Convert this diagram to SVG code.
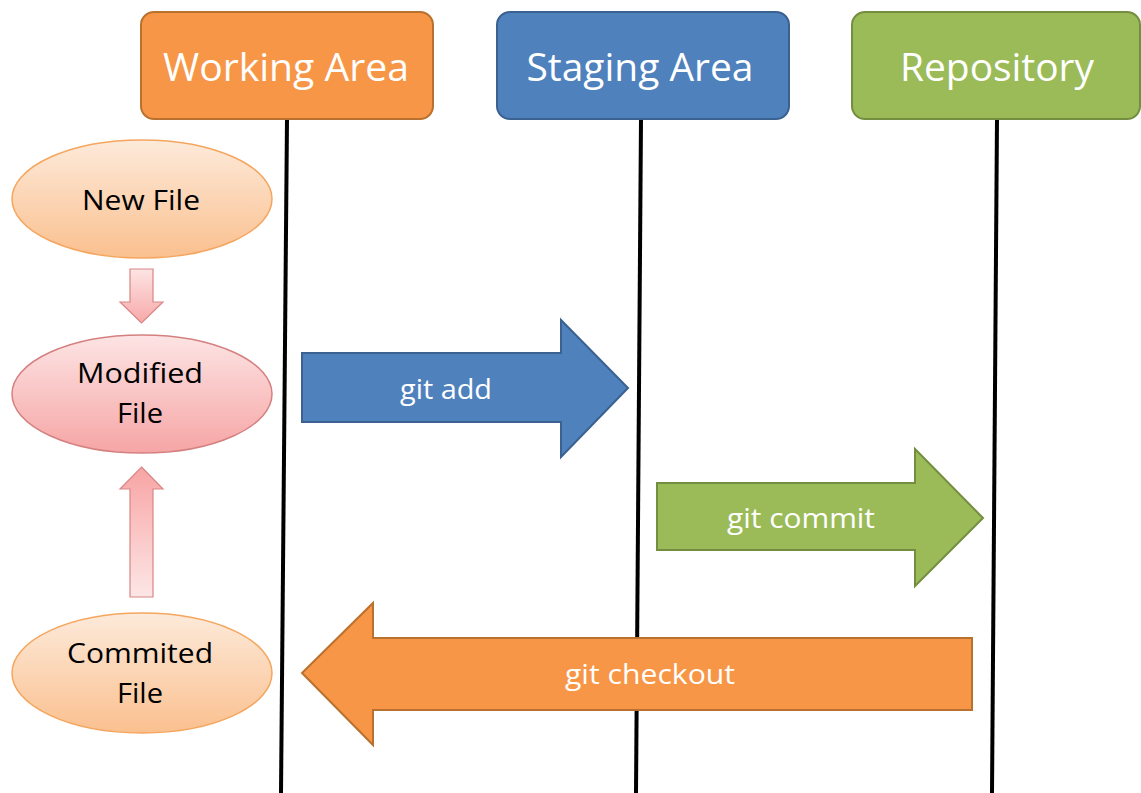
<svg xmlns="http://www.w3.org/2000/svg" width="1141" height="793" viewBox="0 0 1141 793">
  <defs>
    <linearGradient id="peach" x1="0" y1="0" x2="0" y2="1">
      <stop offset="0" stop-color="#FDEADA"/>
      <stop offset="1" stop-color="#FAC08F"/>
    </linearGradient>
    <linearGradient id="pink" x1="0" y1="0" x2="0" y2="1">
      <stop offset="0" stop-color="#FDE4E4"/>
      <stop offset="1" stop-color="#F6A5A5"/>
    </linearGradient>
    <linearGradient id="pinkDown" x1="0" y1="0" x2="0" y2="1">
      <stop offset="0" stop-color="#FDE4E4"/>
      <stop offset="1" stop-color="#F8A8A8"/>
    </linearGradient>
    <linearGradient id="pinkUp" x1="0" y1="1" x2="0" y2="0">
      <stop offset="0" stop-color="#FDE6E6"/>
      <stop offset="1" stop-color="#F8A4A4"/>
    </linearGradient>
  </defs>
  <style>
    .hdr { font-family: "Open Sans", "Liberation Sans", sans-serif; font-size: 38px; fill: #FFFFFF; text-anchor: middle; }
    .lbl { font-family: "Open Sans", "Liberation Sans", sans-serif; font-size: 27px; fill: #000000; text-anchor: middle; }
    .cmd { font-family: "Open Sans", "Liberation Sans", sans-serif; font-size: 28px; fill: #FFFFFF; text-anchor: middle; }
    .life { stroke: #000000; stroke-width: 4; fill: none; }
  </style>

  <rect width="1141" height="793" fill="#FFFFFF"/>

  <!-- lifelines under each area -->
  <g id="connectors">
    <line class="life" x1="287" y1="119" x2="281" y2="793"/>
    <line class="life" x1="641" y1="119" x2="636" y2="793"/>
    <line class="life" x1="997" y1="119" x2="992" y2="793"/>
  </g>

  <!-- column headers -->
  <g id="working-area">
    <rect x="141" y="12" width="292" height="107" rx="13" fill="#F79646" stroke="#B9712F" stroke-width="2"/>
    <text class="hdr" x="286" y="81" textLength="246" lengthAdjust="spacingAndGlyphs">Working Area</text>
  </g>
  <g id="staging-area">
    <rect x="497" y="12" width="292" height="107" rx="13" fill="#4F81BD" stroke="#3A6190" stroke-width="2"/>
    <text class="hdr" x="640" y="81" textLength="227" lengthAdjust="spacingAndGlyphs">Staging Area</text>
  </g>
  <g id="repository">
    <rect x="852" y="12" width="288" height="107" rx="13" fill="#9BBB59" stroke="#748E40" stroke-width="2"/>
    <text class="hdr" x="997" y="81" textLength="194" lengthAdjust="spacingAndGlyphs">Repository</text>
  </g>

  <!-- file states -->
  <g id="new-file">
    <ellipse cx="142" cy="199" rx="130" ry="59" fill="url(#peach)" stroke="#F5A65E" stroke-width="1.5"/>
    <text class="lbl" x="141" y="210" textLength="118" lengthAdjust="spacingAndGlyphs">New File</text>
  </g>
  <g id="modified-file">
    <ellipse cx="142" cy="394" rx="130" ry="59" fill="url(#pink)" stroke="#D58080" stroke-width="1.5"/>
    <text class="lbl" x="140" y="383" textLength="126" lengthAdjust="spacingAndGlyphs">Modified</text>
    <text class="lbl" x="140" y="423" textLength="46" lengthAdjust="spacingAndGlyphs">File</text>
  </g>
  <g id="commited-file">
    <ellipse cx="142" cy="673" rx="130" ry="60" fill="url(#peach)" stroke="#F5A65E" stroke-width="1.5"/>
    <text class="lbl" x="140" y="663" textLength="146" lengthAdjust="spacingAndGlyphs">Commited</text>
    <text class="lbl" x="140" y="703" textLength="46" lengthAdjust="spacingAndGlyphs">File</text>
  </g>

  <!-- state transitions -->
  <g id="new-to-modified">
    <path d="M130,269 L153,269 L153,302 L163,302 L141.5,323 L120,302 L130,302 Z" fill="url(#pinkDown)" stroke="#D98585" stroke-width="1.2"/>
  </g>
  <g id="commited-to-modified">
    <path d="M141.5,467 L163,489 L153,489 L153,597 L130,597 L130,489 L120,489 Z" fill="url(#pinkUp)" stroke="#D98585" stroke-width="1.2"/>
  </g>

  <!-- git commands -->
  <g id="git-add">
    <path d="M302,353 L561,353 L561,320 L628,388 L561,457 L561,422 L302,422 Z" fill="#4F81BD" stroke="#3A6190" stroke-width="2"/>
    <text class="cmd" x="446" y="399" textLength="92" lengthAdjust="spacingAndGlyphs">git add</text>
  </g>
  <g id="git-commit">
    <path d="M657,483 L915,483 L915,449 L983,518 L915,586 L915,550 L657,550 Z" fill="#9BBB59" stroke="#748E40" stroke-width="2"/>
    <text class="cmd" x="801" y="528" textLength="148" lengthAdjust="spacingAndGlyphs">git commit</text>
  </g>
  <g id="git-checkout">
    <path d="M972,638 L373,638 L373,603 L302,673 L373,745 L373,710 L972,710 Z" fill="#F79646" stroke="#B9712F" stroke-width="2"/>
    <text class="cmd" x="650" y="684" textLength="170" lengthAdjust="spacingAndGlyphs">git checkout</text>
  </g>
</svg>
